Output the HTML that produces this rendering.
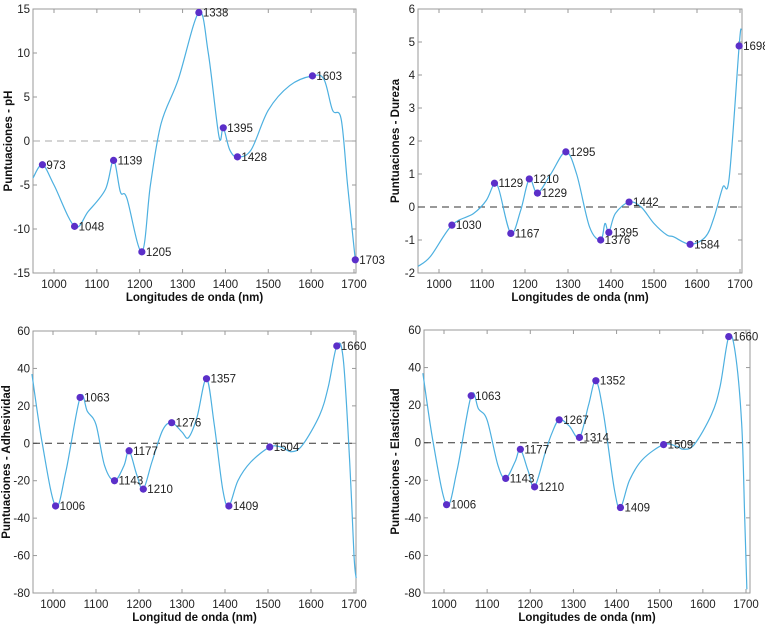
<!DOCTYPE html>
<html><head><meta charset="utf-8"><style>
html,body{margin:0;padding:0;background:#fff;width:765px;height:634px;overflow:hidden}
svg{display:block;font-family:"Liberation Sans",sans-serif}
</style></head><body>
<svg id="s" width="765" height="634" xmlns="http://www.w3.org/2000/svg"></svg>
<script>
const P=[
{L:33,R:356,T:9,B:273,x1:54,x2:354,ymax:15,ymin:-15,step:5,zc:"#aaa",ylab:"Puntuaciones - pH",xlab:"Longitudes de onda (nm)",ylx:12,xly:301,
d:[[951,-4.2],[973,-2.7],[1000,-5],[1048,-9.7],[1080,-8],[1120,-5.5],[1139,-2.2],[1155,-5.8],[1170,-6.5],[1205,-12.6],[1225,-5],[1250,2],[1290,7],[1338,14.6],[1360,10],[1385,0.5],[1395,1.5],[1410,-1],[1428,-1.8],[1460,-1],[1500,3.5],[1550,6.3],[1603,7.4],[1630,7],[1650,3.5],[1670,2.5],[1685,-5],[1703,-13.5]],
m:[973,1048,1139,1205,1338,1395,1428,1603,1703]},
{L:418,R:742,T:9,B:273,x1:439,x2:740,ymax:6,ymin:-2,step:1,zc:"#333",ylab:"Puntuaciones - Dureza",xlab:"Longitudes de onda (nm)",ylx:399,xly:301,
d:[[951,-1.8],[980,-1.5],[1030,-0.55],[1080,-0.2],[1110,0.2],[1129,0.72],[1140,0.5],[1167,-0.8],[1190,-0.1],[1210,0.85],[1229,0.42],[1260,1.0],[1295,1.67],[1320,1.0],[1350,-0.6],[1376,-1.0],[1386,-0.5],[1395,-0.77],[1410,-0.2],[1442,0.15],[1470,0],[1500,-0.5],[1530,-0.85],[1545,-0.9],[1584,-1.13],[1620,-0.9],[1640,-0.3],[1660,0.6],[1675,0.9],[1698,4.88],[1703,5.4]],
m:[1030,1129,1167,1210,1229,1295,1376,1395,1442,1584,1698]},
{L:33,R:356,T:331,B:593,x1:53,x2:354,ymax:60,ymin:-80,step:20,zc:"#333",ylab:"Puntuaciones - Adhesividad",xlab:"Longitud de onda (nm)",ylx:10,xly:621,
d:[[951,37],[975,0],[1006,-33.5],[1030,-15],[1063,24.5],[1080,17],[1100,10],[1120,-12],[1143,-20],[1165,-12],[1177,-4],[1195,-17],[1210,-24.5],[1230,-10],[1255,7],[1276,11],[1300,6],[1315,3],[1335,14],[1357,34.5],[1375,10],[1395,-25],[1409,-33.5],[1430,-20],[1460,-10],[1504,-2],[1530,-2],[1555,-4.5],[1580,-1],[1620,15],[1640,30],[1660,52],[1675,45],[1690,-10],[1700,-60],[1705,-72]],
m:[1006,1063,1143,1177,1210,1276,1357,1409,1504,1660]},
{L:424,R:750,T:330,B:593,x1:444,x2:746,ymax:60,ymin:-80,step:20,zc:"#333",ylab:"Puntuaciones - Elasticidad",xlab:"Longitudes de onda (nm)",ylx:399,xly:621,
d:[[951,37],[975,0],[1006,-33],[1030,-15],[1063,25],[1080,18],[1100,12],[1125,-12],[1143,-19],[1165,-10],[1177,-3.5],[1195,-15],[1210,-23.5],[1235,-5],[1250,5],[1267,12.2],[1290,9],[1314,2.8],[1335,20],[1352,33],[1370,15],[1395,-25],[1409,-34.5],[1430,-20],[1460,-9],[1509,-1],[1540,-2],[1555,-3.5],[1580,-1],[1620,15],[1640,30],[1660,56.5],[1675,48],[1690,10],[1697,-40],[1702,-78]],
m:[1006,1063,1143,1177,1210,1267,1314,1352,1409,1509,1660]}
];
let h="";
for(const p of P){
 const k=(p.x2-p.x1)/700, X=n=>p.x1+(n-1000)*k, Y=v=>p.T+(p.ymax-v)*(p.B-p.T)/(p.ymax-p.ymin);
 h+=`<rect x="${p.L}" y="${p.T}" width="${p.R-p.L}" height="${p.B-p.T}" fill="none" stroke="#999" stroke-width="1"/>`;
 for(let v=p.ymin;v<=p.ymax+1e-9;v+=p.step){const y=Y(v);
  h+=`<line x1="${p.L}" x2="${p.L+4}" y1="${y}" y2="${y}" stroke="#999"/><line x1="${p.R}" x2="${p.R-4}" y1="${y}" y2="${y}" stroke="#999"/>`;
  h+=`<text x="${p.L-3}" y="${y+4}" font-size="11.5" text-anchor="end" fill="#222">${v}</text>`;}
 for(let n=1000;n<=1700;n+=100){const x=X(n);
  h+=`<line x1="${x}" x2="${x}" y1="${p.B}" y2="${p.B-4}" stroke="#999"/><line x1="${x}" x2="${x}" y1="${p.T}" y2="${p.T+4}" stroke="#999"/>`;
  h+=`<text x="${x}" y="${p.B+15}" font-size="11.5" text-anchor="middle" fill="#222">${n}</text>`;}
 h+=`<line x1="${p.L}" x2="${p.R}" y1="${Y(0)}" y2="${Y(0)}" stroke="${p.zc}" stroke-dasharray="7,5"/>`;
 const pts=p.d.map(a=>[X(a[0]),Y(a[1])]);
 let s=`M${pts[0][0]},${pts[0][1]}`;
 for(let i=0;i<pts.length-1;i++){const a=pts[Math.max(0,i-1)],b=pts[i],c=pts[i+1],d=pts[Math.min(pts.length-1,i+2)];
  s+=`C${b[0]+(c[0]-a[0])/6},${b[1]+(c[1]-a[1])/6} ${c[0]-(d[0]-b[0])/6},${c[1]-(d[1]-b[1])/6} ${c[0]},${c[1]}`;}
 h+=`<path d="${s}" fill="none" stroke="#4db0e0" stroke-width="1.2"/>`;
 for(const n of p.m){const a=p.d.find(q=>q[0]==n);const x=X(n),y=Y(a[1]);
  h+=`<circle cx="${x}" cy="${y}" r="3.6" fill="#5b2fc9"/><text x="${x+4}" y="${y+4}" font-size="11.5" fill="#222">${n}</text>`;}
 h+=`<text x="${(p.L+p.R)/2}" y="${p.xly}" font-size="11.5" font-weight="bold" text-anchor="middle" fill="#111">${p.xlab}</text>`;
 const cy=(p.T+p.B)/2;
 h+=`<text transform="translate(${p.ylx},${cy}) rotate(-90)" font-size="11.5" font-weight="bold" text-anchor="middle" fill="#111">${p.ylab}</text>`;
}
document.getElementById("s").innerHTML=h;
</script>
</body></html>
